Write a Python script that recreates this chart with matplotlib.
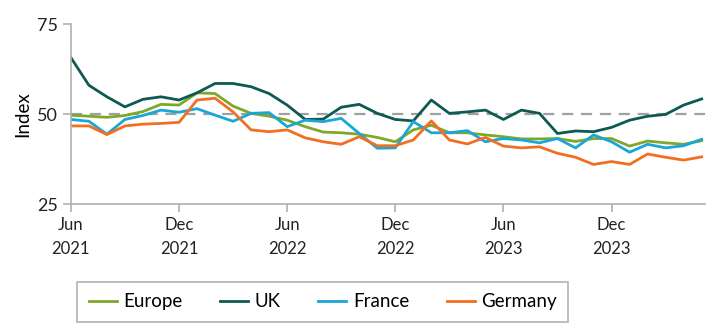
import numpy as np
import matplotlib.pyplot as plt

plt.rcParams['font.family'] = ['Lato', 'DejaVu Sans']

# monthly index, Jun 2021 - May 2024
europe = [49.7, 49.4, 49.1, 49.6, 50.7, 52.7, 52.5, 55.9, 55.7, 52.2, 50.2, 49.4,
          48.3, 46.5, 45.0, 44.8, 44.4, 43.5, 42.3, 45.6, 46.9, 44.8, 44.8, 44.2,
          43.7, 43.1, 43.1, 43.2, 42.4, 43.2, 43.2, 41.1, 42.5, 42.0, 41.6, 42.6]
uk = [65.7, 58.0, 54.8, 52.0, 54.1, 54.8, 53.9, 55.9, 58.5, 58.5, 57.6, 55.7,
      52.5, 48.5, 48.6, 51.9, 52.7, 50.2, 48.5, 48.1, 53.9, 50.2, 50.6, 51.1,
      48.5, 51.1, 50.2, 44.6, 45.3, 45.1, 46.3, 48.3, 49.4, 49.9, 52.5, 54.2]
france = [48.5, 48.0, 44.4, 48.5, 49.6, 51.1, 50.5, 51.5, 49.7, 48.0, 50.2, 50.4,
          46.5, 48.3, 47.9, 48.8, 44.6, 40.5, 40.6, 47.9, 44.8, 44.8, 45.4, 42.3,
          43.2, 42.8, 42.0, 43.2, 40.6, 44.2, 42.3, 39.4, 41.6, 40.6, 41.2, 43.0]
germany = [46.7, 46.7, 44.3, 46.7, 47.2, 47.4, 47.7, 53.9, 54.4, 50.6, 45.6, 45.1,
           45.6, 43.4, 42.3, 41.6, 43.7, 41.2, 41.2, 42.8, 48.1, 42.8, 41.7, 43.5,
           41.1, 40.6, 40.9, 39.1, 38.0, 36.0, 36.8, 36.0, 38.9, 38.0, 37.2, 38.1]

tick_pos = [0, 6, 12, 18, 24, 30]
tick_labels = ['Jun\n2021', 'Dec\n2021', 'Jun\n2022', 'Dec\n2022', 'Jun\n2023', 'Dec\n2023']

months = np.arange(len(uk))

fig = plt.figure(figsize=(7.16, 3.35), dpi=100)
ax = fig.add_axes([0.099, 0.391, 0.886, 0.537])

ax.axhline(50, color='#a0a0a0', lw=1.6, ls=(0, (5, 3.5)), zorder=1)
ax.plot(months, europe, color='#7fa82a', lw=2, label='Europe')
ax.plot(months, uk, color='#0d5a52', lw=2, label='UK')
ax.plot(months, france, color='#18a7d6', lw=2, label='France')
ax.plot(months, germany, color='#f26f21', lw=2, label='Germany')

ax.set_xlim(0, 35.2)
ax.set_ylim(25, 75)
ax.set_yticks([25, 50, 75])
ax.set_xticks(tick_pos)
ax.set_xticklabels(tick_labels, linespacing=1.6)
ax.set_ylabel('Index', fontsize=13.5, labelpad=4)

for s in ['top', 'right']:
    ax.spines[s].set_visible(False)
for s in ['left', 'bottom']:
    ax.spines[s].set_color('#b0b0b0')
    ax.spines[s].set_linewidth(1.2)
ax.tick_params(colors='#b0b0b0', labelcolor='#222222', labelsize=12, length=6, width=1.2)
ax.tick_params(axis='y', labelsize=13)

leg = fig.legend(loc='center', bbox_to_anchor=(0.451, 0.099), ncol=4, fontsize=13.5,
                 frameon=True, fancybox=False, edgecolor='#a0a0a0', handlelength=1.5,
                 handletextpad=0.35, columnspacing=2.0, borderpad=0.6)
leg.get_frame().set_linewidth(1.2)

fig.savefig('out.png', dpi=100)
